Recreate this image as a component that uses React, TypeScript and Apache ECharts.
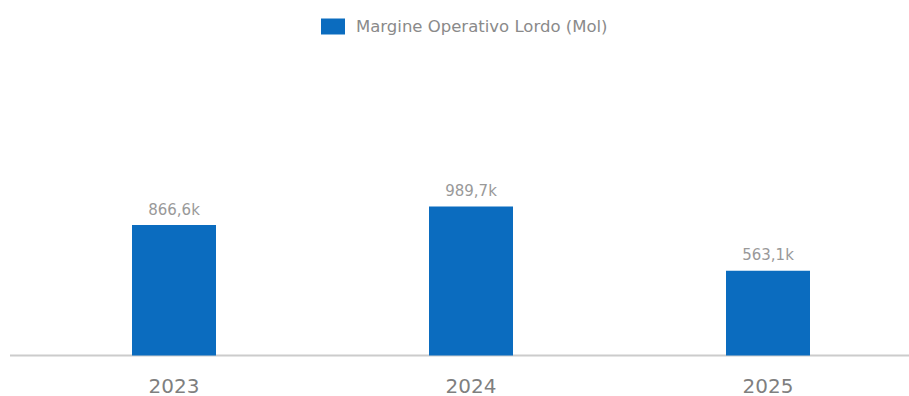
import React, { useEffect, useRef } from "react";
import * as echarts from "echarts";

const categories = ["2023", "2024", "2025"];
const molValues = [866.6, 989.7, 563.1];
const seriesName = "Margine Operativo Lordo (Mol)";

export default function App() {
  const ref = useRef<HTMLDivElement>(null);
  useEffect(() => {
    document.body.style.margin = "0";
    const chart = echarts.init(ref.current!, null, { renderer: "svg" });
    chart.setOption({
      animation: false,
      textStyle: { fontFamily: "DejaVu Sans" },
      legend: {
        top: 13,
        left: 316,
        icon: "rect",
        itemWidth: 24,
        itemHeight: 16,
        itemGap: 8,
        itemStyle: { borderRadius: 0 },
        textStyle: { color: "#8a8a8a", fontSize: 16.5, fontFamily: "DejaVu Sans", padding: [0, 0, 0, 6] },
        data: [seriesName],
      },
      grid: { left: 25.5, width: 891, top: 205, bottom: 40.5, outerBoundsMode: "none" },
      xAxis: {
        type: "category",
        data: categories,
        axisLine: { show: false },
        axisTick: { show: false },
        axisLabel: { color: "#7f7f7f", fontSize: 20, margin: 20, fontFamily: "DejaVu Sans" },
      },
      yAxis: { type: "value", min: 0, max: 1000, show: false, splitLine: { show: false } },
      graphic: [
        {
          type: "line",
          shape: { x1: 10, y1: 355.5, x2: 909, y2: 355.5 },
          style: { stroke: "#cccccc", lineWidth: 2 },
          z: 0,
        },
      ],
      series: [
        {
          name: seriesName,
          type: "bar",
          data: molValues,
          barWidth: 84,
          itemStyle: { color: "#0b6cbf" },
          z: 3,
          label: {
            show: true,
            position: "top",
            distance: 8,
            color: "#999999",
            fontSize: 15,
            fontFamily: "DejaVu Sans",
            formatter: (p: any) => p.value.toFixed(1).replace(".", ",") + "k",
          },
        },
      ],
    });
    return () => chart.dispose();
  }, []);
  return <div ref={ref} style={{ width: 909, height: 396 }} />;
}
